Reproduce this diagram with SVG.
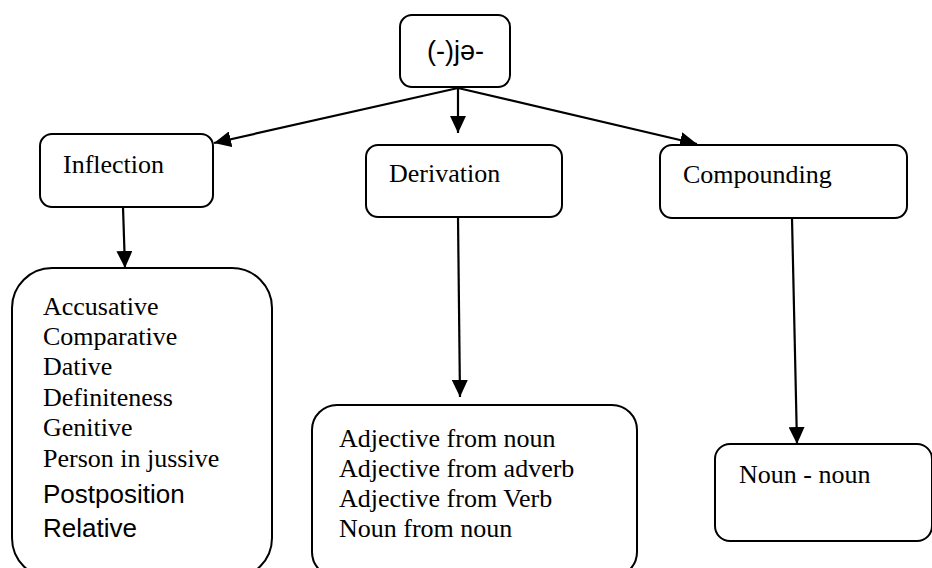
<svg xmlns="http://www.w3.org/2000/svg" width="932" height="568" viewBox="0 0 932 568">
<style>
.box{fill:#fff;stroke:#000;stroke-width:2}
.serif{font-family:"Liberation Serif","Times New Roman",serif;font-size:26px;fill:#000}
.sans{font-family:"Liberation Sans","DejaVu Sans",Arial,sans-serif;font-size:26px;fill:#000}
.conn{stroke:#000;stroke-width:2.2;fill:none;marker-end:url(#arrow)}
</style>
<defs>
<marker id="arrow" markerUnits="userSpaceOnUse" markerWidth="18" markerHeight="16" refX="17" refY="8" orient="auto">
<path d="M0,0 L17,8 L0,16 Z" fill="#000"/>
</marker>
</defs>
<rect width="932" height="568" fill="#fff"/>
<g id="connectors">
<line class="conn" x1="458" y1="88" x2="214" y2="143"/>
<line class="conn" x1="458" y1="88" x2="458" y2="133"/>
<line class="conn" x1="458" y1="88" x2="697" y2="144"/>
<line class="conn" x1="123" y1="207" x2="125" y2="268"/>
<line class="conn" x1="458" y1="217" x2="460" y2="397"/>
<line class="conn" x1="792" y1="218" x2="797" y2="444"/>
</g>
<g id="root">
<rect class="box" x="400" y="15" width="110" height="72" rx="12"/>
<text class="sans" x="455.5" y="60" text-anchor="middle" style="font-size:27px">(-)jə-</text>
</g>
<g id="inflection">
<rect class="box" x="40" y="134" width="173" height="73" rx="12"/>
<text class="serif" x="63" y="173">Inflection</text>
</g>
<g id="derivation">
<rect class="box" x="366" y="145" width="196" height="72" rx="12"/>
<text class="serif" x="389" y="182">Derivation</text>
</g>
<g id="compounding">
<rect class="box" x="660" y="145" width="247" height="73" rx="12"/>
<text class="serif" x="683" y="183">Compounding</text>
</g>
<g id="inflection-list">
<rect class="box" x="12" y="268" width="260" height="310" rx="40"/>
<text class="serif" x="43" y="315">Accusative</text>
<text class="serif" x="43" y="345">Comparative</text>
<text class="serif" x="43" y="375">Dative</text>
<text class="serif" x="43" y="406">Definiteness</text>
<text class="serif" x="43" y="436">Genitive</text>
<text class="serif" x="43" y="467">Person in jussive</text>
<text class="sans" x="43" y="503">Postposition</text>
<text class="sans" x="43" y="537">Relative</text>
</g>
<g id="derivation-list">
<rect class="box" x="312" y="405" width="325" height="172" rx="25"/>
<text class="serif" x="339" y="447">Adjective from noun</text>
<text class="serif" x="339" y="477">Adjective from adverb</text>
<text class="serif" x="339" y="507">Adjective from Verb</text>
<text class="serif" x="339" y="537">Noun from noun</text>
</g>
<g id="compounding-list">
<rect class="box" x="715" y="444" width="217" height="97" rx="15"/>
<text class="serif" x="739" y="483">Noun - noun</text>
</g>
</svg>
